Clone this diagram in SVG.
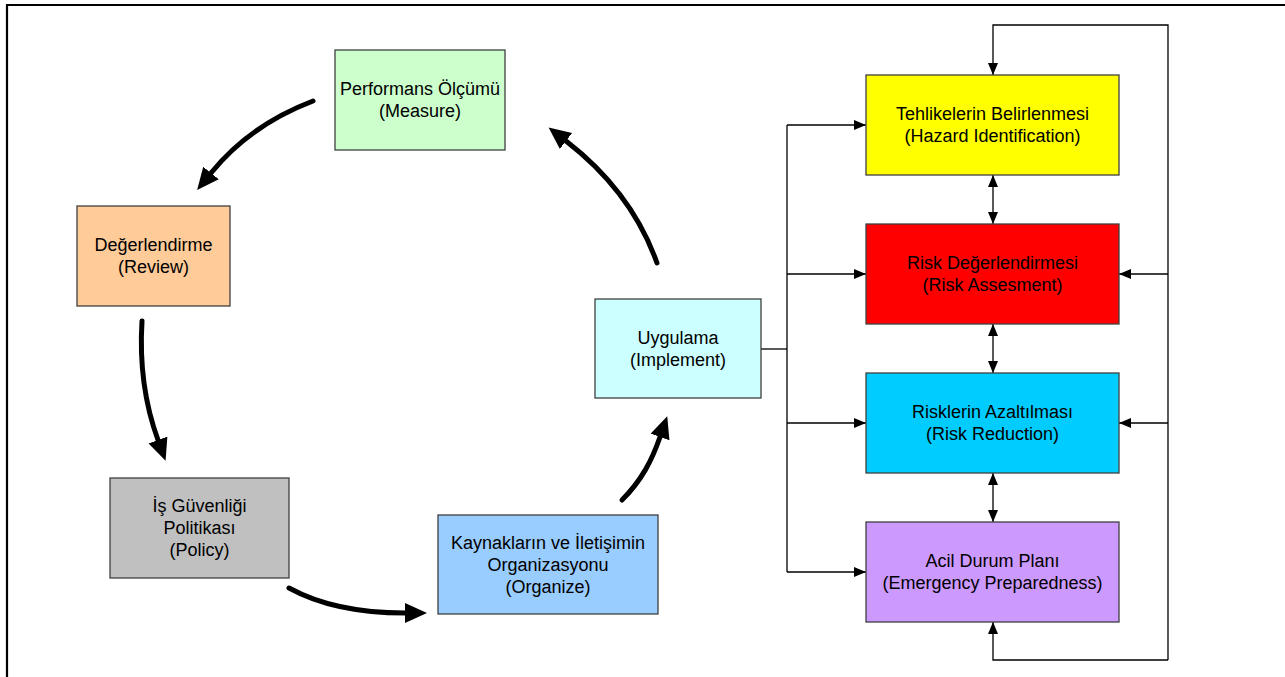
<svg xmlns="http://www.w3.org/2000/svg" width="1285" height="677" viewBox="0 0 1285 677">
<style>
.box{stroke:#404040;stroke-width:1.3}
.t{font-family:"Liberation Sans",Arial,sans-serif;font-size:18px;fill:#000;text-anchor:middle}
.thin{fill:none;stroke:#000;stroke-width:1.3}
.thick{fill:none;stroke:#000;stroke-width:5;stroke-linecap:round}
</style>
<defs>
<marker id="big" markerUnits="userSpaceOnUse" markerWidth="24" markerHeight="22" refX="0" refY="10" orient="auto"><path d="M0,0 L22,10 L0,20 z" fill="#000"/></marker>
<marker id="small" markerUnits="userSpaceOnUse" markerWidth="13" markerHeight="11" refX="12" refY="5" orient="auto-start-reverse"><path d="M0,0 L12,5 L0,10 z" fill="#000"/></marker>
</defs>
<rect width="1285" height="677" fill="#fff"/>
<path d="M7,677 V5 H1285" fill="none" stroke="#000" stroke-width="2.2"/>

<g id="connectors">
<path class="thick" d="M313,101 Q250,125 211,173" marker-end="url(#big)"/>
<path class="thick" d="M142,321 C139,370 147,410 158,440" marker-end="url(#big)"/>
<path class="thick" d="M289,588 C320,605 360,613 405,613" marker-end="url(#big)"/>
<path class="thick" d="M622,500 C642,480 652,460 660,437" marker-end="url(#big)"/>
<path class="thick" d="M657,263 C640,215 610,175 566,141" marker-end="url(#big)"/>
<path class="thin" d="M761,349 H787"/>
<path class="thin" d="M787,125 V572"/>
<path class="thin" d="M787,125 H866" marker-end="url(#small)"/>
<path class="thin" d="M787,274 H866" marker-end="url(#small)"/>
<path class="thin" d="M787,423 H866" marker-end="url(#small)"/>
<path class="thin" d="M787,572 H866" marker-end="url(#small)"/>
<path class="thin" d="M1168,274 H1119" marker-end="url(#small)"/>
<path class="thin" d="M1168,423 H1119" marker-end="url(#small)"/>
<path class="thin" d="M1168,660 V25 H993 V75" marker-end="url(#small)"/>
<path class="thin" d="M1168,660 H993 V622" marker-end="url(#small)"/>
<path class="thin" d="M993,175 V224" marker-start="url(#small)" marker-end="url(#small)"/>
<path class="thin" d="M993,324 V373" marker-start="url(#small)" marker-end="url(#small)"/>
<path class="thin" d="M993,473 V522" marker-start="url(#small)" marker-end="url(#small)"/>
</g>

<g id="measure"><rect class="box" x="335" y="50" width="170" height="100" fill="#CCFFCC"/><text class="t" x="420" y="95">Performans Ölçümü</text><text class="t" x="420" y="117">(Measure)</text></g>
<g id="review"><rect class="box" x="77" y="206" width="153" height="100" fill="#FFCC99"/><text class="t" x="153.5" y="251">Değerlendirme</text><text class="t" x="153.5" y="273">(Review)</text></g>
<g id="policy"><rect class="box" x="110" y="478" width="179" height="100" fill="#C0C0C0"/><text class="t" x="199.5" y="512">İş Güvenliği</text><text class="t" x="199.5" y="534">Politikası</text><text class="t" x="199.5" y="556">(Policy)</text></g>
<g id="organize"><rect class="box" x="438" y="515" width="220" height="99" fill="#99CCFF"/><text class="t" x="548" y="548.5">Kaynakların ve İletişimin</text><text class="t" x="548" y="570.5">Organizasyonu</text><text class="t" x="548" y="592.5">(Organize)</text></g>
<g id="implement"><rect class="box" x="595" y="299" width="166" height="99" fill="#CCFFFF"/><text class="t" x="678" y="344">Uygulama</text><text class="t" x="678" y="366">(Implement)</text></g>
<g id="hazard"><rect class="box" x="866" y="75" width="253" height="100" fill="#FFFF00"/><text class="t" x="992.5" y="120">Tehlikelerin Belirlenmesi</text><text class="t" x="992.5" y="142">(Hazard Identification)</text></g>
<g id="assessment"><rect class="box" x="866" y="224" width="253" height="100" fill="#FF0000"/><text class="t" x="992.5" y="269">Risk Değerlendirmesi</text><text class="t" x="992.5" y="291">(Risk Assesment)</text></g>
<g id="reduction"><rect class="box" x="866" y="373" width="253" height="100" fill="#00CCFF"/><text class="t" x="992.5" y="418">Risklerin Azaltılması</text><text class="t" x="992.5" y="440">(Risk Reduction)</text></g>
<g id="emergency"><rect class="box" x="866" y="522" width="253" height="100" fill="#CC99FF"/><text class="t" x="992.5" y="567">Acil Durum Planı</text><text class="t" x="992.5" y="589">(Emergency Preparedness)</text></g>
</svg>
